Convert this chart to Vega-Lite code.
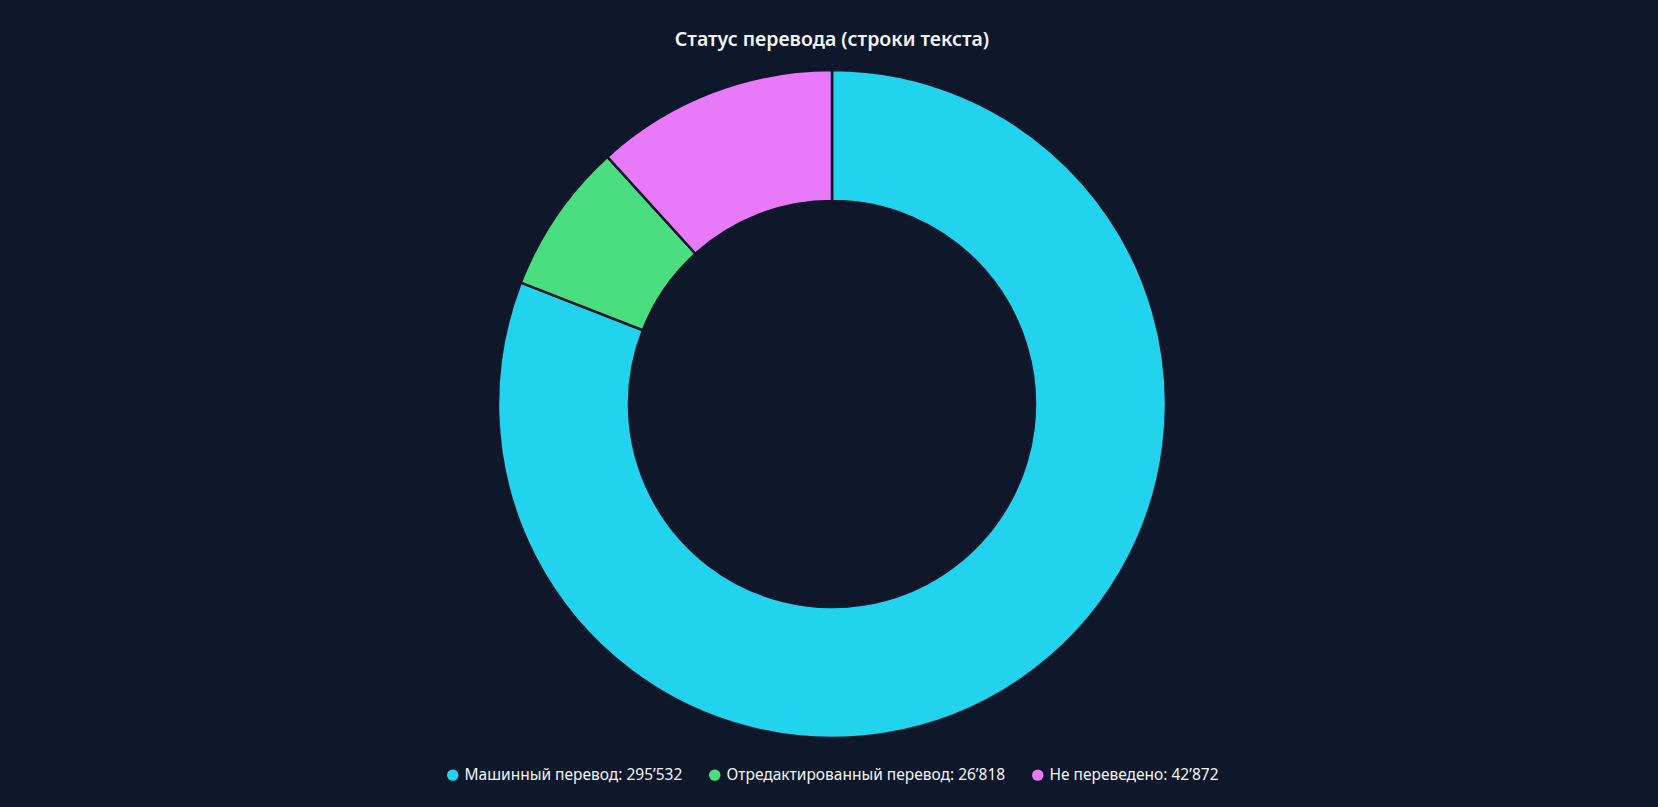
{
  "$schema": "https://vega.github.io/schema/vega-lite/v6.json",
  "width": 1658,
  "height": 807,
  "autosize": {"type": "fit", "contains": "padding"},
  "padding": {"top": 29, "bottom": 23, "left": 6, "right": 0},
  "background": "#0f172a",
  "title": {
    "text": "Статус перевода (строки текста)",
    "color": "#f1f5f9",
    "fontSize": 19.5,
    "font": "Noto Sans",
    "fontWeight": 600,
    "anchor": "middle",
    "offset": 6
  },
  "data": {
    "values": [
      {"status": "Машинный перевод: 295’532", "count": 295532, "ord": 1},
      {"status": "Отредактированный перевод: 26’818", "count": 26818, "ord": 2},
      {"status": "Не переведено: 42’872", "count": 42872, "ord": 3}
    ]
  },
  "mark": {
    "type": "arc",
    "outerRadius": 334,
    "innerRadius": 203,
    "stroke": "#0f172a",
    "strokeWidth": 2.5
  },
  "encoding": {
    "theta": {"field": "count", "type": "quantitative", "stack": true},
    "order": {"field": "ord", "type": "quantitative"},
    "color": {
      "field": "status",
      "type": "nominal",
      "sort": null,
      "scale": {
        "domain": ["Машинный перевод: 295’532", "Отредактированный перевод: 26’818", "Не переведено: 42’872"],
        "range": ["#22d3ee", "#4ade80", "#e879f9"]
      },
      "legend": {
        "title": null,
        "orient": "bottom",
        "direction": "horizontal",
        "symbolType": "circle",
        "symbolSize": 130,
        "symbolStrokeWidth": 0,
        "labelColor": "#f1f5f9",
        "labelFont": "Noto Sans",
        "labelFontSize": 15.5,
        "columnPadding": 24,
        "labelLimit": 400,
        "offset": 15
      }
    }
  },
  "config": {
    "view": {"stroke": null},
    "legend": {"layout": {"bottom": {"anchor": "middle"}}}
  }
}
